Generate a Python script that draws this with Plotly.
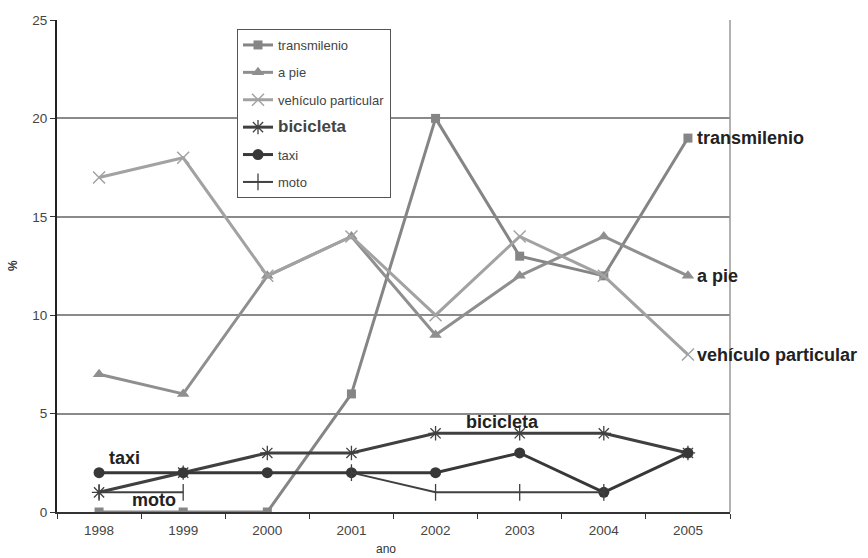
import plotly.graph_objects as go

years = ["1998", "1999", "2000", "2001", "2002", "2003", "2004", "2005"]
transmilenio = [0, 0, 0, 6, 20, 13, 12, 19]
a_pie = [7, 6, 12, 14, 9, 12, 14, 12]
vehiculo = [17, 18, 12, 14, 10, 14, 12, 8]
bicicleta = [1, 2, 3, 3, 4, 4, 4, 3]
taxi = [2, 2, 2, 2, 2, 3, 1, 3]
moto = [1, 1, None, 2, 1, 1, 1, None]

FONT = "Liberation Sans, Arial, sans-serif"
L, R, T, B = 57, 730, 20, 512
W, H = R - L, B - T

def px(x):
    return (x - L) / W

def py(y):
    return (B - y) / H

series = [
    ("transmilenio", transmilenio, "#858585", 3, "square", 9, "#858585", 0),
    ("a pie", a_pie, "#8f8f8f", 3, "triangle-up", 11, "#8f8f8f", 0),
    ("vehículo particular", vehiculo, "#a2a2a2", 3, "x-thin-open", 12, "#a2a2a2", 1.5),
    ("<span style='font-size:17px'><b>bicicleta</b></span>", bicicleta, "#404040", 3, "asterisk-open", 12, "#404040", 1.3),
    ("taxi", taxi, "#383838", 3, "circle", 11, "#383838", 0),
    ("moto", moto, "#404040", 2, "line-ns-open", 12, "#404040", 1.3),
]

fig = go.Figure()
for i, (name, vals, col, lw, sym, ms, mcol, mlw) in enumerate(series):
    fig.add_trace(go.Scatter(
        x=years, y=vals, name=name, mode="lines+markers",
        line=dict(color=col, width=lw),
        marker=dict(symbol=sym, size=ms, color=mcol, line=dict(color=mcol, width=mlw)),
        legendgroup=f"g{i}",
    ))

last = len(years) - 1
for y, t in [(transmilenio[last], "transmilenio"), (a_pie[last], "a pie"),
             (vehiculo[last], "vehículo particular")]:
    fig.add_annotation(x=last, y=y, xref="x", yref="y", text=f"<b>{t}</b>",
                       showarrow=False, xanchor="left", yanchor="middle", xshift=7,
                       font=dict(family=FONT, size=18, color="#222"))

for x, y, t in [(502, 422, "bicicleta"), (124, 458, "taxi"), (154, 500, "moto")]:
    fig.add_annotation(x=px(x), y=py(y), xref="paper", yref="paper",
                       xanchor="center", yanchor="middle",
                       text=f"<b>{t}</b>", showarrow=False,
                       font=dict(family=FONT, size=18, color="#222"))

fig.add_annotation(x=px(13), y=py(266), xref="paper", yref="paper", text="<b>%</b>",
                   xanchor="center", yanchor="middle",
                   textangle=-90, showarrow=False,
                   font=dict(family=FONT, size=12, color="#333"))
fig.add_annotation(x=px(386), y=py(549), xref="paper", yref="paper", text="ano",
                   xanchor="center", yanchor="middle",
                   showarrow=False, font=dict(family=FONT, size=12, color="#333"))

fig.update_layout(
    width=868, height=558,
    margin=dict(l=L, r=868 - R, t=T, b=558 - B, autoexpand=False),
    paper_bgcolor="white", plot_bgcolor="white",
    font=dict(family=FONT, size=13, color="#333"),
    showlegend=True,
    legend=dict(
        x=px(237), y=py(29), xanchor="left", yanchor="top",
        bgcolor="white", bordercolor="#555", borderwidth=1,
        font=dict(family=FONT, size=13, color="#444"),
        tracegroupgap=7.5, itemwidth=30,
    ),
    xaxis=dict(
        type="category", range=[-0.5, 7.5], tickson="boundaries",
        ticks="outside", ticklen=5, tickcolor="#333", automargin=False,
        showline=True, linecolor="#333", linewidth=2, mirror=False,
        showgrid=False, tickfont=dict(size=13.5, color="#444"),
        ticklabelstandoff=5,
    ),
    yaxis=dict(
        range=[0, 25], dtick=5, ticks="outside", ticklen=5, tickcolor="#333",
        showline=True, linecolor="#222", linewidth=2, automargin=False,
        showgrid=True, gridcolor="#8a8a8a", gridwidth=1.5,
        tickfont=dict(size=13.5, color="#444"),
        zeroline=False,
    ),
)

fig.add_shape(type="line", xref="paper", yref="paper", x0=1, x1=1, y0=0, y1=1,
              line=dict(color="#999", width=1.5))

fig.write_html("out.html", config={"displayModeBar": False},
               post_script="document.body.style.margin='0';")
